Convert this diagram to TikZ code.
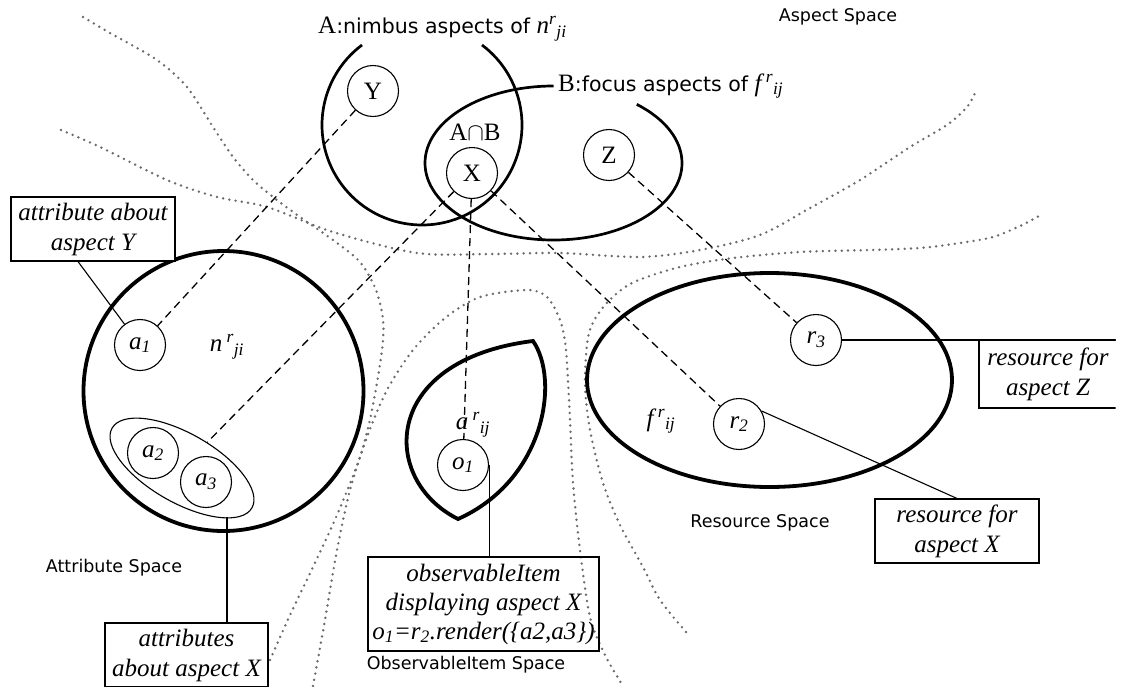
\documentclass[tikz,border=0pt]{standalone}
\usepackage{fontspec}
\setmainfont{Liberation Serif}
\newfontfamily\tah{DejaVu Sans}
\usetikzlibrary{shapes.geometric}
\newcommand\supsb[2]{\textsuperscript{#1}\textsubscript{#2}}
\begin{document}
\begin{tikzpicture}[x=1pt,y=-1pt,
  serif/.style={font=\fontsize{25}{30}\selectfont},
  iserif/.style={font=\itshape\fontsize{25}{30}\selectfont},
  sans/.style={font=\tah\fontsize{17.5}{21}\selectfont},
  smallc/.style={circle,draw,line width=1.1pt,minimum size=51pt,inner sep=0pt},
  box/.style={draw,line width=1.1pt,inner sep=2pt,align=center,font=\itshape\fontsize{25}{30}\selectfont},
  dashln/.style={line width=1.3pt,dash pattern=on 8pt off 5pt},
  dotln/.style={line width=2.7pt,dash pattern=on 0pt off 6.3pt,line cap=round,black!58},
  heavy/.style={line width=3.8pt},
  medium/.style={line width=2.7pt},
  thinln/.style={line width=1.1pt}]
\useasboundingbox (0,0) rectangle (1124,686);
\begin{scope}
\clip (0,0) rectangle (1115.5,686);

% dotted space boundaries
\draw[dotln] plot[smooth,tension=0.5] coordinates {(83,17) (110,33) (157,60) (187,87) (213,127) (233,157) (253,180) (273,197) (300,217) (333,240) (360,262) (376,290) (383,320) (382,350) (372,410) (360,457) (337,515) (313,567) (290,615) (270,660)};
\draw[dotln] plot[smooth,tension=0.5] coordinates {(61,130) (100,147) (167,180) (217,197) (267,207) (333,232) (417,253) (490,254) (560,253) (640,257) (700,250) (760,235) (810,208) (860,180) (910,147) (947,125) (967,107) (975,93)};
\draw[dotln] plot[smooth,tension=0.5] coordinates {(313,686) (325,620) (337,550) (350,490) (367,437) (387,390) (413,350) (445,318) (480,297) (527,290) (547,297) (560,320) (566,350) (570,420) (573,483) (580,550) (590,617) (605,655) (623,686)};
\draw[dotln] plot[smooth,tension=0.5] coordinates {(686,632) (660,600) (643,567) (620,525) (603,483) (590,430) (585,383) (589,333) (605,305) (632,283) (680,267) (733,258) (800,252) (870,250) (920,248) (960,243) (993,237) (1020,226) (1039,216)};

% space names
\node[sans] (aspsp) at (838,17) {Aspect Space};
\node[sans] (attsp) at (114,568) {Attribute Space};
\node[sans] (ressp) at (760,523) {Resource Space};
\node[sans] (obssp) at (466,665) {ObservableItem Space};

% aspect space
\draw[medium] (362,45) arc[start angle=233.13, end angle=-53.13, radius=100];
\draw[medium] (553.5,86) arc[start angle=270, end angle=-49.6, x radius=128.5, y radius=77];
\node[anchor=west,inner sep=0pt,serif] (labA) at (318,29) {A{\tah\fontsize{20.5}{24}\selectfont :nimbus aspects of }\textit{n\supsb{r}{ji}}};
\node[anchor=west,inner sep=0pt,serif] (labB) at (558,86) {B{\tah\fontsize{20.5}{24}\selectfont :focus aspects of }\textit{f\,\supsb{r}{ij}}};
\node[smallc,serif] (Y) at (373,91) {Y};
\node[smallc,serif] (X) at (472,173) {X};
\node[smallc,serif] (Z) at (609,155) {Z};
\node[serif] (AB) at (475,132) {A$\cap$B};

% attribute space
\node[circle,draw,heavy,minimum size=280pt,inner sep=0pt] (nimb) at (223.5,391) {};
\node[iserif] (nlab) at (227,347) {n\,\supsb{r}{ji}};
\node[smallc,iserif] (a1) at (140,345) {a\textsubscript{1}};
\node[smallc,iserif] (a2) at (153,453) {a\textsubscript{2}};
\node[smallc,iserif] (a3) at (206,482) {a\textsubscript{3}};
\node[draw,ellipse,thinln,minimum width=161pt,minimum height=69pt,inner sep=0pt,rotate=-29.7] (grp) at (182,468) {};
\coordinate (gb) at (227,517);

% observable item
\draw[heavy,line join=miter] (458,519) .. controls (380,480) and (380,360) .. (533,341) .. controls (560,380) and (545,480) .. (458,519) -- cycle;
\node[iserif] (alab) at (473,425) {a\,\supsb{r}{ij}};
\node[smallc,iserif] (o1) at (463,465) {o\textsubscript{1}};

% resource space
\node[draw,ellipse,heavy,minimum width=365pt,minimum height=214pt,inner sep=0pt] (res) at (769.5,380) {};
\node[iserif] (flab) at (661,421) {f\,\supsb{r}{ij}};
\node[smallc,iserif] (r3) at (816,340) {r\textsubscript{3}};
\node[smallc,iserif] (r2) at (739,424) {r\textsubscript{2}};

% boxes
\node[box,fill=white,minimum width=164pt,minimum height=64pt] (bY) at (93,229) {attribute about\\aspect Y};
\node[box,fill=white,minimum width=163pt,minimum height=64pt] (bAX) at (186.5,655) {attributes\\about aspect X};
\node[box,minimum width=231pt,minimum height=94pt,font=\itshape\fontsize{25}{29}\selectfont] (bO) at (483.5,604) {observableItem\\displaying aspect X\\o\textsubscript{1}=r\textsubscript{2}.render(\{a2,a3\})};
\node[box,fill=white,minimum width=164pt,minimum height=64pt] (bX) at (957,531) {resource for\\aspect X};
\node[box,fill=white,minimum width=138pt,minimum height=68pt] (bZ) at (1048,374) {resource for\\aspect Z};

% dashed correspondences
\draw[dashln] (Y) -- (a1);
\draw[dashln] (X) -- (grp);
\draw[dashln] (X) -- (o1);
\draw[dashln] (X) -- (r2);
\draw[dashln] (Z) -- (r3);

% callout lines
\draw[thinln] ([xshift=-15pt]bY.south) -- (a1);
\draw[thinln] (gb) -- (gb |- bAX.north);
\draw[thinln] (o1.east) -- (o1.east |- bO.north);
\draw[thinln] (r2.30) -- (bX.north);
\draw[thinln] (r3.east) -- (r3.east -| bZ.east);
\end{scope}
\end{tikzpicture}
\end{document}
